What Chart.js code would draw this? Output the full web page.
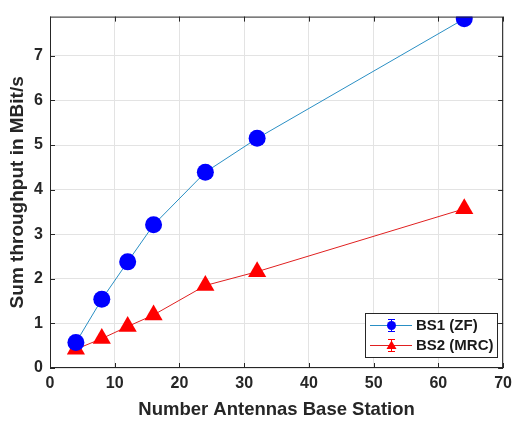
<!DOCTYPE html>
<html><head><meta charset="utf-8">
<script src="https://cdn.jsdelivr.net/npm/chart.js@4"></script>
<style>html,body{margin:0;padding:0;background:#fff;}#wrap{width:518px;height:423px;position:relative;}</style>
</head><body><div id="wrap"><canvas id="c" width="518" height="423"></canvas></div>
<script>
const antennas = [4, 8, 12, 16, 24, 32, 64];
const bs1ZF = [0.57, 1.54, 2.38, 3.21, 4.39, 5.15, 7.83];
const bs2MRC = [0.42, 0.66, 0.93, 1.19, 1.85, 2.16, 3.57];
const xTicks = [0, 10, 20, 30, 40, 50, 60, 70];
const yTicks = [0, 1, 2, 3, 4, 5, 6, 7];
const seriesNames = ['BS1 (ZF)', 'BS2 (MRC)'];

const FONT = "'Liberation Sans', Arial, sans-serif";

const framePlugin = {
  id: 'frame',
  afterDatasetsDraw(chart) {
    const {ctx, chartArea: a, scales} = chart;
    ctx.save();
    ctx.strokeStyle = '#262626';
    ctx.lineWidth = 1;
    ctx.strokeRect(a.left + 0.5, a.top + 0.5, a.right - a.left - 1, a.bottom - a.top - 1);
    ctx.beginPath();
    xTicks.forEach(v => {
      const px = Math.round(scales.x.getPixelForValue(v)) + 0.5;
      ctx.moveTo(px, a.bottom); ctx.lineTo(px, a.bottom - 5);
      ctx.moveTo(px, a.top); ctx.lineTo(px, a.top + 5);
    });
    yTicks.forEach(v => {
      const py = Math.round(scales.y.getPixelForValue(v)) + 0.5;
      ctx.moveTo(a.left, py); ctx.lineTo(a.left + 5, py);
      ctx.moveTo(a.right, py); ctx.lineTo(a.right - 5, py);
    });
    ctx.stroke();
    ctx.restore();
  },
  afterDraw(chart) {
    const {ctx} = chart;
    ctx.save();
    const bx = 365, by = 313, bw = 132, bh = 44;
    ctx.fillStyle = '#fff';
    ctx.fillRect(bx, by, bw, bh);
    ctx.strokeStyle = '#262626';
    ctx.lineWidth = 1;
    ctx.strokeRect(bx + 0.5, by + 0.5, bw, bh);
    const rows = [by + 12, by + 32];
    const cols = [['#0000ff', '#2a8fc4', 'circle'], ['#ff0000', '#e02020', 'triangle']];
    rows.forEach((y, i) => {
      const c = cols[i];
      ctx.strokeStyle = c[1];
      ctx.beginPath(); ctx.moveTo(370, y + 0.5); ctx.lineTo(412, y + 0.5); ctx.stroke();
      ctx.strokeStyle = c[0];
      ctx.beginPath();
      ctx.moveTo(391.5, y - 6); ctx.lineTo(391.5, y + 6);
      ctx.moveTo(388, y - 6 + 0.5); ctx.lineTo(395, y - 6 + 0.5);
      ctx.moveTo(388, y + 6 + 0.5); ctx.lineTo(395, y + 6 + 0.5);
      ctx.stroke();
      ctx.fillStyle = c[0];
      ctx.beginPath();
      if (c[2] === 'circle') { ctx.arc(391.5, y + 0.5, 4.5, 0, Math.PI * 2); }
      else { ctx.moveTo(391.5, y - 4.5); ctx.lineTo(396.5, y + 4); ctx.lineTo(386.5, y + 4); ctx.closePath(); }
      ctx.fill();
      ctx.fillStyle = '#1a1a1a';
      ctx.font = 'bold 15px ' + FONT;
      ctx.textBaseline = 'middle';
      ctx.textAlign = 'left';
      ctx.fillText(seriesNames[i], 416, y + 1);
    });
    ctx.restore();
  }
};

new Chart(document.getElementById('c'), {
  type: 'line',
  data: {
    datasets: [
      {
        label: seriesNames[0],
        data: antennas.map((x, i) => ({x, y: bs1ZF[i]})),
        borderColor: '#2a8fc4',
        borderWidth: 1,
        pointStyle: 'circle',
        pointRadius: 8.5,
        pointBackgroundColor: '#0000ff',
        pointBorderColor: '#0000ff',
        pointBorderWidth: 0,
        tension: 0
      },
      {
        label: seriesNames[1],
        data: antennas.map((x, i) => ({x, y: bs2MRC[i]})),
        borderColor: '#e02020',
        borderWidth: 1,
        pointStyle: 'triangle',
        pointRadius: 10.5,
        pointBackgroundColor: '#ff0000',
        pointBorderColor: '#ff0000',
        pointBorderWidth: 0,
        tension: 0
      }
    ]
  },
  options: {
    responsive: false,
    animation: false,
    events: [],
    layout: {padding: {top: 8, right: 7, left: 0, bottom: 0}},
    plugins: {legend: {display: false}, tooltip: {enabled: false}},
    scales: {
      x: {
        type: 'linear', min: 0, max: 70,
        afterBuildTicks: s => { s.ticks = xTicks.map(v => ({value: v})); },
        afterFit: s => { s.height = 55; },
        grid: {color: '#e3e3e3', drawTicks: false, tickLength: 0},
        border: {display: false},
        ticks: {color: '#262626', font: {family: FONT, size: 16, weight: 'bold'}, padding: 6, maxRotation: 0},
        title: {display: true, text: 'Number Antennas Base Station', color: '#262626', font: {family: FONT, size: 18.5, weight: 'bold'}, padding: {top: 0, bottom: 2}}
      },
      y: {
        type: 'linear', min: 0, max: 7.88,
        afterBuildTicks: s => { s.ticks = yTicks.map(v => ({value: v})); },
        afterFit: s => { s.width = 50; },
        grid: {color: '#e3e3e3', drawTicks: false, tickLength: 0},
        border: {display: false},
        ticks: {color: '#262626', font: {family: FONT, size: 16, weight: 'bold'}, padding: 7},
        title: {display: true, text: 'Sum throughput in MBit/s', color: '#262626', font: {family: FONT, size: 19, weight: 'bold'}, padding: {top: 6, bottom: 0}}
      }
    }
  },
  plugins: [framePlugin]
});
</script></body></html>
